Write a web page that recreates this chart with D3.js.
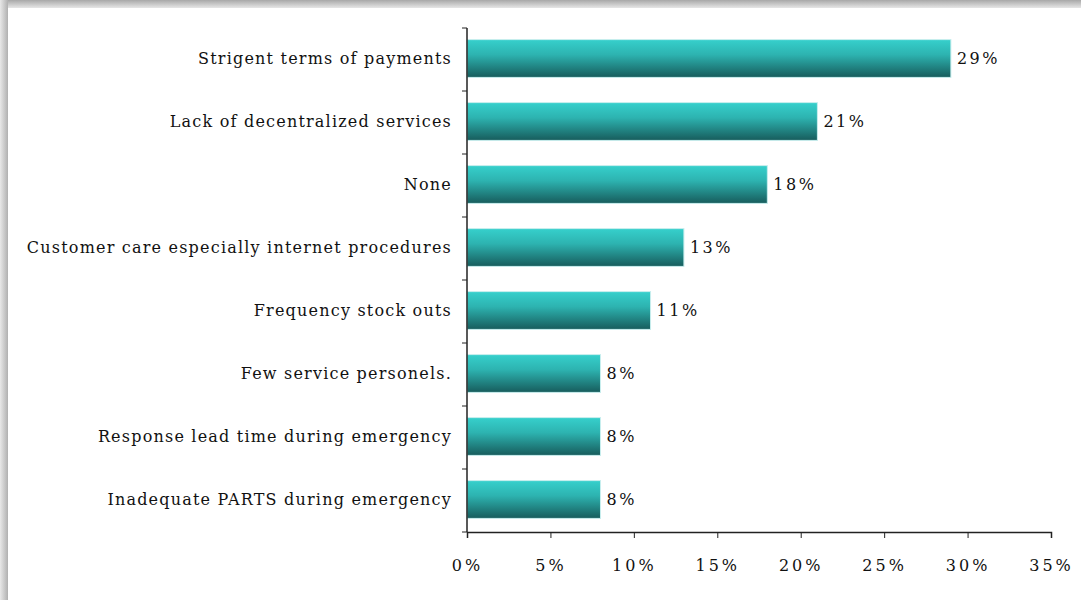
<!DOCTYPE html>
<html>
<head>
<meta charset="utf-8">
<script src="https://cdn.jsdelivr.net/npm/d3@7"></script>
<style>
  body { margin: 0; background: #fff; }
  svg text { font-family: "DejaVu Serif", "Liberation Serif", serif; fill: #111; }
</style>
</head>
<body>
<svg width="1081" height="600"></svg>
<script>
var categories = [
  "Strigent terms of payments",
  "Lack of decentralized services",
  "None",
  "Customer care especially internet procedures",
  "Frequency stock outs",
  "Few service personels.",
  "Response lead time during emergency",
  "Inadequate PARTS during emergency"
];
var values = [29, 21, 18, 13, 11, 8, 8, 8];
var xTicks = [0, 5, 10, 15, 20, 25, 30, 35];

var svg = d3.select("svg"),
    width = +svg.attr("width"),
    height = +svg.attr("height");

var margin = {top: 28, right: 30, bottom: 68, left: 467};

// frame shadow
var defs = svg.append("defs");
var shTop = defs.append("linearGradient").attr("id", "shTop")
    .attr("x1", 0).attr("y1", 0).attr("x2", 0).attr("y2", 1);
shTop.append("stop").attr("offset", "0%").attr("stop-color", "#a8a8a8");
shTop.append("stop").attr("offset", "100%").attr("stop-color", "#e6e6e6");
var shLeft = defs.append("linearGradient").attr("id", "shLeft")
    .attr("x1", 0).attr("y1", 0).attr("x2", 1).attr("y2", 0);
shLeft.append("stop").attr("offset", "0%").attr("stop-color", "#e8e8e8");
shLeft.append("stop").attr("offset", "100%").attr("stop-color", "#b0b0b0");

var barGrad = defs.append("linearGradient").attr("id", "barGrad")
    .attr("x1", 0).attr("y1", 0).attr("x2", 0).attr("y2", 1);
barGrad.append("stop").attr("offset", "0%").attr("stop-color", "#36d0cc");
barGrad.append("stop").attr("offset", "40%").attr("stop-color", "#2db3b0");
barGrad.append("stop").attr("offset", "100%").attr("stop-color", "#175c5c");

svg.append("rect").attr("width", width).attr("height", 8).attr("fill", "url(#shTop)");
svg.append("rect").attr("width", 8).attr("height", height).attr("fill", "url(#shLeft)");
svg.append("rect").attr("x", 8).attr("y", 8).attr("width", width - 8).attr("height", height - 8)
    .attr("fill", "#fff");

var x = d3.scaleLinear()
    .domain([0, 35])
    .range([margin.left, width - margin.right]);

var y = d3.scaleBand()
    .domain(categories)
    .range([margin.top, height - margin.bottom])
    .paddingInner(0.4)
    .paddingOuter(0.2);

// bars
svg.append("g")
  .selectAll("rect")
  .data(values)
  .enter().append("rect")
    .attr("x", x(0))
    .attr("y", function(d, i) { return y(categories[i]) - 1; })
    .attr("width", function(d) { return x(d) - x(0); })
    .attr("height", y.bandwidth())
    .attr("fill", "url(#barGrad)")
    .attr("stroke", "#c8eeee")
    .attr("stroke-width", 1);

// value labels
svg.append("g")
  .selectAll("text")
  .data(values)
  .enter().append("text")
    .attr("x", function(d) { return x(d) + 6; })
    .attr("y", function(d, i) { return y(categories[i]) + y.bandwidth() / 2 - 1; })
    .attr("dy", "0.35em")
    .style("font-size", "16px")
    .style("letter-spacing", "2.5px")
    .text(function(d) { return d + "%"; });

// x axis
var xAxis = svg.append("g")
    .attr("transform", "translate(0," + (height - margin.bottom) + ")")
    .call(d3.axisBottom(x).tickValues(xTicks).tickSize(6).tickPadding(22)
      .tickFormat(function(d) { return d + "%"; }));
xAxis.select(".domain").attr("stroke", "#222").attr("stroke-width", 1.5);
xAxis.selectAll(".tick line").attr("stroke", "#222");
xAxis.selectAll("text")
    .style("font-size", "16px")
    .style("letter-spacing", "3px")
    .attr("fill", "#111");

// y axis: ticks at band boundaries
var yAxis = svg.append("g")
    .attr("transform", "translate(" + margin.left + ",0)");
var bounds = d3.range(categories.length + 1).map(function(i) {
  return margin.top + i * (height - margin.top - margin.bottom) / categories.length;
});
yAxis.append("line")
    .attr("x1", 0).attr("x2", 0)
    .attr("y1", margin.top).attr("y2", height - margin.bottom)
    .attr("stroke", "#222").attr("stroke-width", 1.5);
yAxis.selectAll(".yt")
  .data(bounds)
  .enter().append("line")
    .attr("class", "yt")
    .attr("x1", -5).attr("x2", 0)
    .attr("y1", function(d) { return d; })
    .attr("y2", function(d) { return d; })
    .attr("stroke", "#222");

yAxis.selectAll(".lbl")
  .data(categories)
  .enter().append("text")
    .attr("class", "lbl")
    .attr("x", -15)
    .attr("y", function(d) { return y(d) + y.bandwidth() / 2 - 1; })
    .attr("dy", "0.35em")
    .attr("text-anchor", "end")
    .style("font-size", "16px")
    .style("letter-spacing", "1.2px")
    .text(function(d) { return d; });
</script>
</body>
</html>
